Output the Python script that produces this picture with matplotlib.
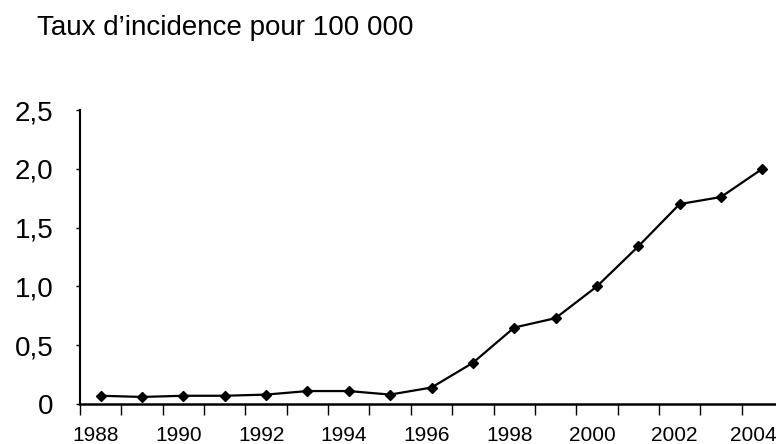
import matplotlib
matplotlib.use("Agg")
import matplotlib.pyplot as plt
import matplotlib.transforms as mtransforms
import numpy as np

plt.rcParams['font.family'] = ['Liberation Sans', 'DejaVu Sans']

years = list(range(1988, 2005))
rates = [0.07, 0.06, 0.07, 0.07, 0.08, 0.11, 0.11, 0.08, 0.14, 0.35,
         0.65, 0.73, 1.00, 1.34, 1.70, 1.76, 2.00]
year_labels = ["1988", "1990", "1992", "1994", "1996", "1998", "2000", "2002", "2004"]
y_ticks = [0, 0.5, 1.0, 1.5, 2.0, 2.5]
y_labels = ["0", "0,5", "1,0", "1,5", "2,0", "2,5"]
title = "Taux d\u2019incidence pour 100 000"

fig = plt.figure(figsize=(7.76, 4.44), dpi=100)
ax = fig.add_axes([80/776, 40/444, 703/776, 294/444])

x = np.arange(len(years))
ax.plot(x, rates, color='black', lw=1.6, marker='D', ms=5.5,
        markerfacecolor='black', markeredgecolor='black')

ax.set_xlim(-0.5, len(years) - 0.5)
ax.set_ylim(0, 2.5)

# category boundaries as ticks, labels at centers
ax.set_xticks(np.arange(-0.5, len(years), 1.0))
ax.set_xticklabels([])
lab_pos = [years.index(int(l)) for l in year_labels]
ax.set_xticks(lab_pos, minor=True)
ax.set_xticklabels(year_labels, minor=True, fontsize=15)
ax.tick_params(axis='x', which='major', length=8, width=1.0, direction='out')
ax.tick_params(axis='x', which='minor', length=0, pad=16)
labs = ax.get_xticklabels(minor=True)
for i, lab in enumerate(labs):
    dx = (-9 if i == len(labs) - 1 else -5) / 100.0
    lab.set_transform(lab.get_transform() +
                      mtransforms.ScaledTranslation(dx, 0, fig.dpi_scale_trans))

ax.set_yticks(y_ticks)
ax.set_yticklabels(y_labels, fontsize=20)
ax.tick_params(axis='y', length=3, width=1.0, direction='out', pad=16)

for s in ['top', 'right']:
    ax.spines[s].set_visible(False)
ax.spines['left'].set_linewidth(1.5)
ax.spines['bottom'].set_linewidth(1.8)

fig.text(37/776, 1 - 28/444, title, fontsize=20, va='center', ha='left')

fig.savefig("out.png", dpi=100)
